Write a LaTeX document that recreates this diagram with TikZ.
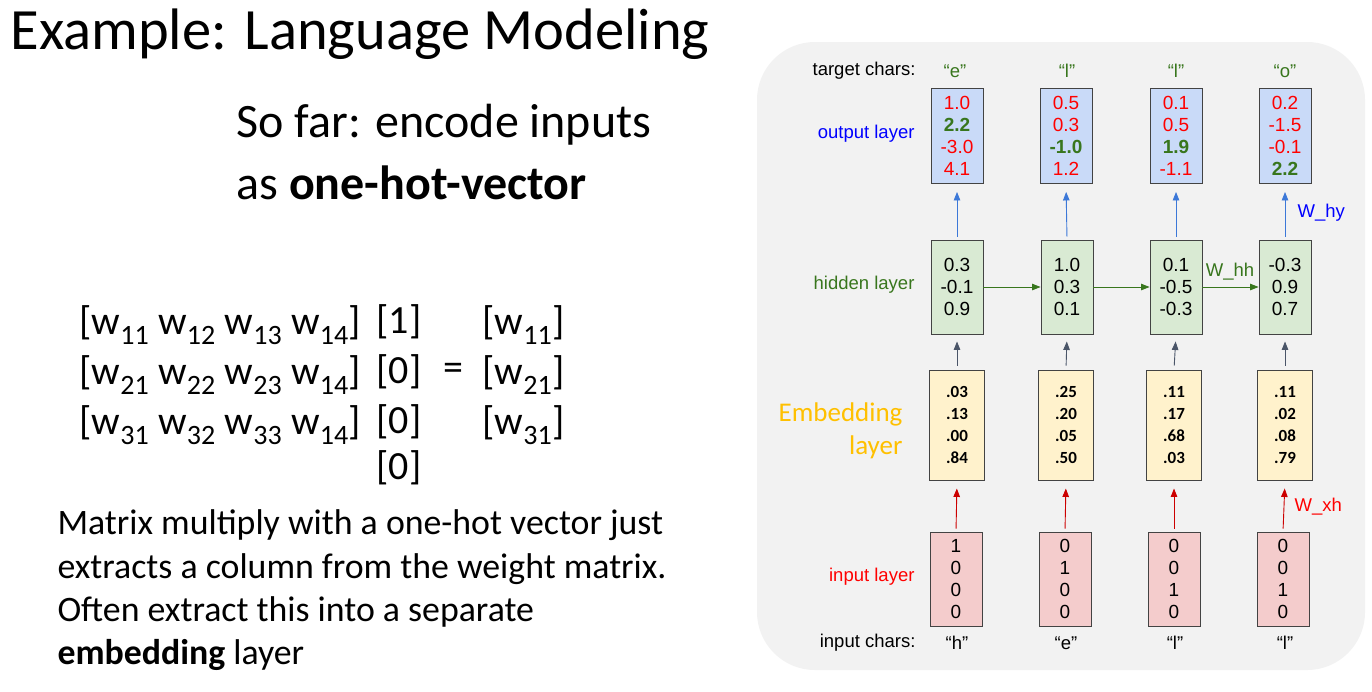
\documentclass[tikz,border=0pt]{standalone}
\usepackage{fontspec}
\setmainfont{Carlito}
\newfontfamily\arialf{Liberation Sans}
\usetikzlibrary{arrows.meta}
\definecolor{panel}{HTML}{F2F2F2}
\definecolor{boxline}{HTML}{434343}
\definecolor{outfill}{HTML}{C9DAF8}
\definecolor{hidfill}{HTML}{D9EAD3}
\definecolor{embfill}{HTML}{FFF2CC}
\definecolor{infill}{HTML}{F4CCCC}
\definecolor{tred}{HTML}{FF0000}
\definecolor{tgreen}{HTML}{38761D}
\definecolor{tblue}{HTML}{0000FF}
\definecolor{hgreen}{HTML}{38761D}
\definecolor{aorange}{HTML}{FFC000}
\definecolor{ablue}{HTML}{3C78D8}
\definecolor{agray}{HTML}{4A5568}
\definecolor{ared}{HTML}{CC0000}
\begin{document}
\begin{tikzpicture}[x=1pt,y=-1pt,
  vbox/.style={draw=boxline, line width=0.9pt, minimum width=52, inner sep=0, align=center,
    font=\arialf\fontsize{19}{21.8}\selectfont},
  outbox/.style={vbox, fill=outfill, minimum height=95, text=tred},
  hidbox/.style={vbox, fill=hidfill, minimum height=94},
  embbox/.style={vbox, fill=embfill, minimum width=55, minimum height=110, font=\bfseries\fontsize{17}{22}\selectfont},
  inbox/.style={vbox, fill=infill, minimum height=94},
  dlabel/.style={font=\arialf\fontsize{18.5}{22}\selectfont},
  slidetext/.style={anchor=west, font=\fontsize{35.8}{40}\selectfont},
  mtext/.style={anchor=west, font=\fontsize{40}{44}\selectfont},
  tip/.style={-{Triangle[width=6.5,length=8.5]}, line width=0.9pt},
  uparr/.style={tip, shorten <=3pt, shorten >=8pt},
]
\useasboundingbox (0,0) rectangle (1372,691);
\fill[white] (0,0) rectangle (1372,691);

% ---------- left part ----------
\node[anchor=west, font=\fontsize{58.5}{64}\selectfont] (title) at (7,34) {Example: Language Modeling};
\node[slidetext, font=\fontsize{48}{54}\selectfont] (sofar1) at (233,125) {So far: encode inputs};
\node[slidetext, font=\fontsize{48}{54}\selectfont] (sofar2) at (233,183) {as \textbf{one-hot-vector}};

\node[mtext] (m1) at (76,325) {[w\textsubscript{11} w\textsubscript{12} w\textsubscript{13} w\textsubscript{14}]};
\node[mtext] (m2) at (76,375) {[w\textsubscript{21} w\textsubscript{22} w\textsubscript{23} w\textsubscript{14}]};
\node[mtext] (m3) at (76,425) {[w\textsubscript{31} w\textsubscript{32} w\textsubscript{33} w\textsubscript{14}]};
\node[mtext] (v1) at (373,322) {[1]};
\node[mtext] (v2) at (373,372) {[0]};
\node[mtext] (v3) at (373,422) {[0]};
\node[mtext] (v4) at (373,468) {[0]};
\node[mtext, anchor=center] (eq) at (453,372) {=};
\node[mtext] (r1) at (479,325) {[w\textsubscript{11}]};
\node[mtext] (r2) at (479,375) {[w\textsubscript{21}]};
\node[mtext] (r3) at (479,425) {[w\textsubscript{31}]};

\node[slidetext] (p1) at (54,525) {Matrix multiply with a one-hot vector just};
\node[slidetext] (p2) at (54,569) {extracts a column from the weight matrix.};
\node[slidetext] (p3) at (54,612) {Often extract this into a separate};
\node[slidetext] (p4) at (54,655) {\textbf{embedding} layer};

% ---------- right panel ----------
\fill[panel, rounded corners=58] (757,42) rectangle (1365,670);

\node[dlabel, anchor=east] (tc) at (919,71) {target chars:};
\node[dlabel, anchor=east, text=tblue] (ol) at (918,134) {output layer};
\node[dlabel, anchor=east, text=hgreen] (hl) at (918,285) {hidden layer};
\node[anchor=east, text=aorange, align=right, font=\fontsize{27}{33}\selectfont] (el) at (906,431) {Embedding\\layer};
\node[dlabel, anchor=east, text=tred] (il) at (918,577) {input layer};
\node[dlabel, anchor=east] (ic) at (919,643) {input chars:};

% column 1
\node[dlabel, text=tgreen] (t1) at (955,71) {“e”};
\node[outbox] (o1) at (957,136) {1.0\\\textcolor{tgreen}{\textbf{2.2}}\\-3.0\\4.1};
\node[hidbox] (h1) at (957,287) {0.3\\-0.1\\0.9};
\node[embbox] (e1) at (957,425) {.03\\.13\\.00\\.84};
\node[inbox] (i1) at (956,579) {1\\0\\0\\0};
\node[dlabel] (c1) at (957,643) {“h”};
% column 2
\node[dlabel, text=tgreen] (t2) at (1067,71) {“l”};
\node[outbox] (o2) at (1066,136) {0.5\\0.3\\\textcolor{tgreen}{\textbf{-1.0}}\\1.2};
\node[hidbox] (h2) at (1067,287) {1.0\\0.3\\0.1};
\node[embbox] (e2) at (1066,425) {.25\\.20\\.05\\.50};
\node[inbox] (i2) at (1065,579) {0\\1\\0\\0};
\node[dlabel] (c2) at (1066,643) {“e”};
% column 3
\node[dlabel, text=tgreen] (t3) at (1176,71) {“l”};
\node[outbox] (o3) at (1176,136) {0.1\\0.5\\\textcolor{tgreen}{\textbf{1.9}}\\-1.1};
\node[hidbox] (h3) at (1176,287) {0.1\\-0.5\\-0.3};
\node[embbox] (e3) at (1174,425) {.11\\.17\\.68\\.03};
\node[inbox] (i3) at (1174,579) {0\\0\\1\\0};
\node[dlabel] (c3) at (1175,643) {“l”};
% column 4
\node[dlabel, text=tgreen] (t4) at (1285,71) {“o”};
\node[outbox] (o4) at (1285,136) {0.2\\-1.5\\-0.1\\\textcolor{tgreen}{\textbf{2.2}}};
\node[hidbox] (h4) at (1285,287) {-0.3\\0.9\\0.7};
\node[embbox] (e4) at (1285,425) {.11\\.02\\.08\\.79};
\node[inbox] (i4) at (1283,579) {0\\0\\1\\0};
\node[dlabel] (c4) at (1285,643) {“l”};

% arrows
\foreach \k in {1,2,3,4}{
  \draw[uparr, ablue] (h\k.north) -- (o\k.south);
  \draw[tip, agray, shorten <=4pt, shorten >=7pt] (e\k.north) -- (h\k.south);
  \draw[uparr, ared] (i\k.north) -- (e\k.south);
}
\draw[tip, hgreen] (h1.east) -- (h2.west);
\draw[tip, hgreen] (h2.east) -- (h3.west);
\draw[tip, hgreen] (h3.east) -- (h4.west);

\node[dlabel, anchor=west, text=tblue] (why) at (1294,213) {W\_hy};
\node[dlabel, text=hgreen] (whh) at (1230,272) {W\_hh};
\node[dlabel, anchor=west, text=tred] (wxh) at (1291,507) {W\_xh};
\end{tikzpicture}
\end{document}
